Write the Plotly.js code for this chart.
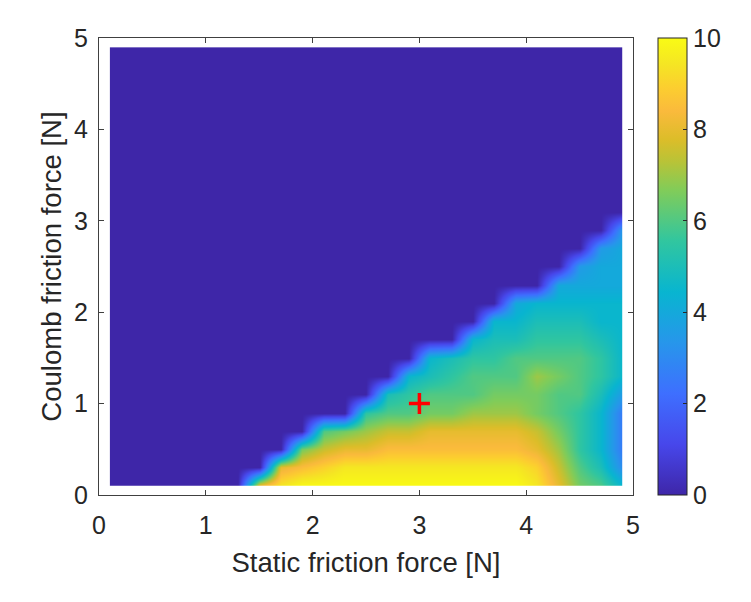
<!DOCTYPE html>
<html>
<head>
<meta charset="utf-8">
<script src="https://cdn.plot.ly/plotly-3.0.1.min.js"></script>
<style>html,body{margin:0;padding:0;background:#fff;}#chart{width:751px;height:602px;}</style>
</head>
<body>
<div id="chart"></div>
<script>
// Static friction force grid [N] (columns) and Coulomb friction force grid [N] (rows)
var staticForce = [0.1,0.3,0.5,0.7,0.9,1.1,1.3,1.5,1.7,1.9,2.1,2.3,2.5,2.7,2.9,3.1,3.3,3.5,3.7,3.9,4.1,4.3,4.5,4.7,4.9];
var coulombForce = [0.1,0.3,0.5,0.7,0.9,1.1,1.3,1.5,1.7,1.9,2.1,2.3,2.5,2.7,2.9,3.1,3.3,3.5,3.7,3.9,4.1,4.3,4.5,4.7,4.9];

// Values, one row per Coulomb friction force (bottom row first)
var row01 = [0,0,0,0,0,0,0,8.5,9.5,10,10,10,10,10,10,10,10,10,10,10,9.5,8,6.5,6,4.5];
var row03 = [0,0,0,0,0,0,0,0,8,8.5,9,9.5,9.5,9.5,9.5,9.5,9.5,9.5,9.5,9.5,9,7.5,6,5,3];
var row05 = [0,0,0,0,0,0,0,0,0,6.5,7.5,8,8,8.5,8.5,8.5,8.5,8.5,8.5,8.5,8,7,5.5,4.5,2.5];
var row07 = [0,0,0,0,0,0,0,0,0,0,6,6.5,7,7.5,7.5,8,8,8,8,8,7.5,6.5,5.5,4.5,2.5];
var row09 = [0,0,0,0,0,0,0,0,0,0,0,0,5.5,6,6,6.5,6.5,7,7,7,6.5,6,5.5,4.5,2.5];
var row11 = [0,0,0,0,0,0,0,0,0,0,0,0,0,5,5.5,6,6,6,6.5,6.5,6.5,6,6,5,3.5];
var row13 = [0,0,0,0,0,0,0,0,0,0,0,0,0,0,4.5,5,5.5,6,6,6,7,6.5,6,5.5,4.5];
var row15 = [0,0,0,0,0,0,0,0,0,0,0,0,0,0,0,4.5,5,5.5,5.5,6,6,6,6,5.5,4.5];
var row17 = [0,0,0,0,0,0,0,0,0,0,0,0,0,0,0,0,0,4.5,5,5,5.5,5.5,5.5,5,4.5];
var row19 = [0,0,0,0,0,0,0,0,0,0,0,0,0,0,0,0,0,0,4.5,4.5,5,5,5,4.5,4.5];
var row21 = [0,0,0,0,0,0,0,0,0,0,0,0,0,0,0,0,0,0,0,4,4.5,4.5,4.5,4.5,4.5];
var row23 = [0,0,0,0,0,0,0,0,0,0,0,0,0,0,0,0,0,0,0,0,0,4,4,4,4];
var row25 = [0,0,0,0,0,0,0,0,0,0,0,0,0,0,0,0,0,0,0,0,0,0,3.5,4,4];
var row27 = [0,0,0,0,0,0,0,0,0,0,0,0,0,0,0,0,0,0,0,0,0,0,0,3.5,4];
var row29 = [0,0,0,0,0,0,0,0,0,0,0,0,0,0,0,0,0,0,0,0,0,0,0,0,3.5];
var row31 = [0,0,0,0,0,0,0,0,0,0,0,0,0,0,0,0,0,0,0,0,0,0,0,0,0];
var row33 = [0,0,0,0,0,0,0,0,0,0,0,0,0,0,0,0,0,0,0,0,0,0,0,0,0];
var row35 = [0,0,0,0,0,0,0,0,0,0,0,0,0,0,0,0,0,0,0,0,0,0,0,0,0];
var row37 = [0,0,0,0,0,0,0,0,0,0,0,0,0,0,0,0,0,0,0,0,0,0,0,0,0];
var row39 = [0,0,0,0,0,0,0,0,0,0,0,0,0,0,0,0,0,0,0,0,0,0,0,0,0];
var row41 = [0,0,0,0,0,0,0,0,0,0,0,0,0,0,0,0,0,0,0,0,0,0,0,0,0];
var row43 = [0,0,0,0,0,0,0,0,0,0,0,0,0,0,0,0,0,0,0,0,0,0,0,0,0];
var row45 = [0,0,0,0,0,0,0,0,0,0,0,0,0,0,0,0,0,0,0,0,0,0,0,0,0];
var row47 = [0,0,0,0,0,0,0,0,0,0,0,0,0,0,0,0,0,0,0,0,0,0,0,0,0];
var row49 = [0,0,0,0,0,0,0,0,0,0,0,0,0,0,0,0,0,0,0,0,0,0,0,0,0];

// Marked point
var markX = [3];
var markY = [1];

// Colorbar ticks
var cbTicks = [0,2,4,6,8,10];

var zValues = [row01,row03,row05,row07,row09,row11,row13,row15,row17,row19,row21,row23,row25,row27,row29,
               row31,row33,row35,row37,row39,row41,row43,row45,row47,row49];

var parula = [
  [0.000, 'rgb(62,38,168)'],
  [0.111, 'rgb(71,71,235)'],
  [0.222, 'rgb(62,111,255)'],
  [0.333, 'rgb(39,150,235)'],
  [0.444, 'rgb(8,181,208)'],
  [0.556, 'rgb(49,198,159)'],
  [0.667, 'rgb(129,204,89)'],
  [0.730, 'rgb(185,195,55)'],
  [0.778, 'rgb(220,189,41)'],
  [0.840, 'rgb(250,186,60)'],
  [0.889, 'rgb(252,205,48)'],
  [0.944, 'rgb(245,230,35)'],
  [1.000, 'rgb(249,251,21)']
];

var FONT = 'Liberation Sans, Arial, Helvetica, sans-serif';
var TXT = '#262626';

var field = {
  type: 'contour',
  x: staticForce,
  y: coulombForce,
  z: zValues,
  coloring: 'heatmap',
  colorscale: parula,
  zmin: 0, zmax: 10, zauto: false,
  autocontour: false,
  contours: {start: 0, end: 10, size: 1, showlines: false, coloring: 'heatmap'},
  line: {width: 0},
  hoverinfo: 'skip',
  colorbar: {
    x: 1.0468, xanchor: 'left', xpad: 0,
    y: 0.5, yanchor: 'middle', ypad: 0,
    len: 1, lenmode: 'fraction',
    thickness: 29, thicknessmode: 'pixels',
    outlinewidth: 1, outlinecolor: TXT,
    tickvals: cbTicks,
    ticks: 'inside', ticklen: 4, tickcolor: TXT,
    tickfont: {family: FONT, size: 25, color: TXT},
    ticklabelposition: 'outside'
  }
};

var cross = {
  type: 'scatter',
  mode: 'markers',
  x: markX,
  y: markY,
  marker: {symbol: 'cross-thin-open', size: 15, color: 'rgb(255,0,0)', line: {color: 'rgb(255,0,0)', width: 3.5}},
  showlegend: false,
  hoverinfo: 'skip'
};

var layout = {
  width: 751, height: 602,
  margin: {l: 99, r: 118, t: 38, b: 107, pad: 0},
  paper_bgcolor: '#ffffff',
  plot_bgcolor: '#ffffff',
  showlegend: false,
  font: {family: FONT, color: TXT},
  xaxis: {
    range: [0, 5], tickvals: [0,1,2,3,4,5], ticktext: ['0','1','2','3','4','5'],
    ticks: 'inside', ticklen: 5, tickcolor: '#404040',
    showline: true, linecolor: '#404040', linewidth: 1, mirror: 'ticks',
    showgrid: false, zeroline: false,
    tickfont: {family: FONT, size: 25, color: TXT},
    ticklabelstandoff: 8,
    title: {text: 'Static friction force [N]', font: {family: FONT, size: 27.5, color: TXT}, standoff: 14},
    automargin: false
  },
  yaxis: {
    range: [0, 5], tickvals: [0,1,2,3,4,5], ticktext: ['0','1','2','3','4','5'],
    ticks: 'inside', ticklen: 5, tickcolor: '#404040',
    showline: true, linecolor: '#404040', linewidth: 1, mirror: 'ticks',
    showgrid: false, zeroline: false,
    tickfont: {family: FONT, size: 25, color: TXT},
    ticklabelstandoff: 5,
    title: {text: 'Coulomb friction force [N]', font: {family: FONT, size: 27.5, color: TXT}, standoff: 4},
    automargin: false
  }
};

Plotly.newPlot('chart', [field, cross], layout, {displayModeBar: false, staticPlot: true});
</script>
</body>
</html>
